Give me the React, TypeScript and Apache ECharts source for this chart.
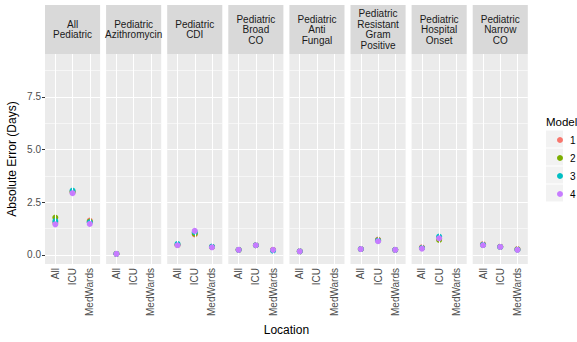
import React, { useEffect, useRef } from "react";
import * as echarts from "echarts";

const facetNames = [
  "All\nPediatric",
  "Pediatric\nAzithromycin",
  "Pediatric\nCDI",
  "Pediatric\nBroad\nCO",
  "Pediatric\nAnti\nFungal",
  "Pediatric\nResistant\nGram\nPositive",
  "Pediatric\nHospital\nOnset",
  "Pediatric\nNarrow\nCO",
];
const locations = ["All", "ICU", "MedWards"];
const models = ["1", "2", "3", "4"];
const modelColors = ["#F8766D", "#7CAE00", "#00BFC4", "#C77CFF"];
const yTicks = [0, 2.5, 5, 7.5];
const yMinor = [1.25, 3.75, 6.25, 8.75];

// values per facet: [All, ICU, MedWards]
const model1 = [
  [1.52, 3.0, 1.63], [0.05, null, null], [0.48, 0.97, 0.38], [0.24, 0.46, 0.24],
  [0.17, null, null], [0.28, 0.73, 0.24], [0.36, 0.8, null], [0.51, 0.4, 0.28],
];
const model2 = [
  [1.77, 2.98, 1.58], [0.05, null, null], [0.47, 1.01, 0.38], [0.24, 0.46, 0.23],
  [0.17, null, null], [0.28, 0.7, 0.24], [0.33, 0.71, null], [0.48, 0.38, 0.26],
];
const model3 = [
  [1.6, 3.05, 1.55], [0.05, null, null], [0.52, 1.08, 0.4], [0.24, 0.46, 0.2],
  [0.17, null, null], [0.28, 0.68, 0.24], [0.33, 0.87, null], [0.48, 0.38, 0.25],
];
const model4 = [
  [1.45, 2.93, 1.47], [0.05, null, null], [0.46, 1.14, 0.36], [0.24, 0.46, 0.24],
  [0.17, null, null], [0.28, 0.65, 0.24], [0.3, 0.79, null], [0.46, 0.38, 0.24],
];
const modelValues = [model1, model2, model3, model4];

const FONT = "'Liberation Sans', Arial, sans-serif";

export default function App() {
  const ref = useRef<HTMLDivElement>(null);
  useEffect(() => {
    if (!ref.current) return;
    const chart = echarts.init(ref.current, null, { renderer: "svg" });
    const left0 = 45;
    const panelW = 55.1;
    const step = 61.1;
    const top = 54;
    const bottom = 264;
    const grids: any[] = [];
    const xAxes: any[] = [];
    const yAxes: any[] = [];
    const series: any[] = [];
    const graphics: any[] = [];

    facetNames.forEach((name, i) => {
      const left = left0 + i * step;
      grids.push({
        left,
        top,
        width: panelW,
        height: bottom - top,
        show: true,
        backgroundColor: "#EBEBEB",
        borderWidth: 0,
      });
      xAxes.push({
        type: "value",
        gridIndex: i,
        min: 0.4,
        max: 3.6,
        axisLine: { show: false },
        splitLine: { show: false },
        axisTick: {
          show: true,
          customValues: [1, 2, 3],
          length: 3,
          lineStyle: { color: "#333333", width: 1 },
        },
        axisLabel: {
          customValues: [1, 2, 3],
          rotate: 90,
          color: "#4D4D4D",
          fontSize: 10,
          fontFamily: FONT,
          margin: 4,
          formatter: (v: number) => locations[Math.round(v) - 1] ?? "",
        },
      });
      yAxes.push({
        type: "value",
        gridIndex: i,
        min: -0.43,
        max: 9.53,
        axisLine: { show: false },
        splitLine: { show: false },
        axisTick: {
          show: i === 0,
          customValues: yTicks,
          length: 3,
          lineStyle: { color: "#333333", width: 1 },
        },
        axisLabel: {
          show: i === 0,
          customValues: yTicks,
          color: "#4D4D4D",
          fontSize: 10,
          fontFamily: FONT,
          margin: 4,
          formatter: (v: number) => v.toFixed(1),
        },
        name: i === 0 ? "Absolute Error (Days)" : "",
        nameLocation: "middle",
        nameRotate: 90,
        nameGap: 27,
        nameTextStyle: { color: "#000000", fontSize: 12, fontFamily: FONT },
      });
      // gridline carrier series
      series.push({
        type: "scatter",
        name: "grid",
        xAxisIndex: i,
        yAxisIndex: i,
        data: [],
        z: 1,
        silent: true,
        markLine: {
          silent: true,
          symbol: "none",
          animation: false,
          label: { show: false },
          data: [
            ...yMinor.map((v) => ({ yAxis: v, lineStyle: { color: "#FFFFFF", width: 0.55, type: "solid" } })),
            ...yTicks.map((v) => ({ yAxis: v, lineStyle: { color: "#FFFFFF", width: 1.1, type: "solid" } })),
            ...[1, 2, 3].map((v) => ({ xAxis: v, lineStyle: { color: "#FFFFFF", width: 1.1, type: "solid" } })),
          ],
        },
      });
      models.forEach((m, k) => {
        const vals = modelValues[k][i];
        const data: any[] = [];
        vals.forEach((v, j) => {
          if (v !== null && v !== undefined) data.push([j + 1, v]);
        });
        series.push({
          type: "scatter",
          name: m,
          xAxisIndex: i,
          yAxisIndex: i,
          data,
          symbolSize: 6,
          z: 2 + k,
          itemStyle: { color: modelColors[k], opacity: 1 },
        });
      });
      // strip
      graphics.push({
        type: "rect",
        shape: { x: left, y: 5, width: panelW, height: top - 5 },
        style: { fill: "#D9D9D9" },
        silent: true,
      });
      graphics.push({
        type: "text",
        x: left + panelW / 2,
        y: (5 + top) / 2,
        style: {
          text: name,
          fill: "#1A1A1A",
          font: `10px ${FONT}`,
          align: "center",
          verticalAlign: "middle",
          lineHeight: 10.5,
        },
        silent: true,
      });
    });

    // x title
    graphics.push({
      type: "text",
      x: left0 + (7 * step + panelW) / 2,
      y: 330,
      style: { text: "Location", fill: "#000000", font: `12px ${FONT}`, align: "center", verticalAlign: "middle" },
    });
    // legend title and key boxes
    graphics.push({
      type: "text",
      x: 546,
      y: 122,
      style: { text: "Model", fill: "#000000", font: `11.5px ${FONT}`, align: "left", verticalAlign: "middle" },
    });
    models.forEach((_, k) => {
      graphics.push({
        type: "rect",
        shape: { x: 546, y: 130.5 + k * 18, width: 17, height: 17 },
        style: { fill: "#F2F2F2" },
        z: -1,
      });
    });

    chart.setOption({
      animation: false,
      backgroundColor: "#FFFFFF",
      grid: grids,
      xAxis: xAxes,
      yAxis: yAxes,
      series,
      legend: {
        data: models,
        orient: "vertical",
        left: 552,
        top: 126,
        icon: "circle",
        itemWidth: 6,
        itemHeight: 6,
        itemGap: 0,
        textStyle: { fontSize: 10, fontFamily: FONT, color: "#000000", lineHeight: 18, padding: [0, 0, 0, 2] },
        selectedMode: false,
      },
      graphic: graphics,
    });
    return () => chart.dispose();
  }, []);
  return <div ref={ref} style={{ position: "fixed", left: 0, top: 0, width: 577, height: 342 }} />;
}
